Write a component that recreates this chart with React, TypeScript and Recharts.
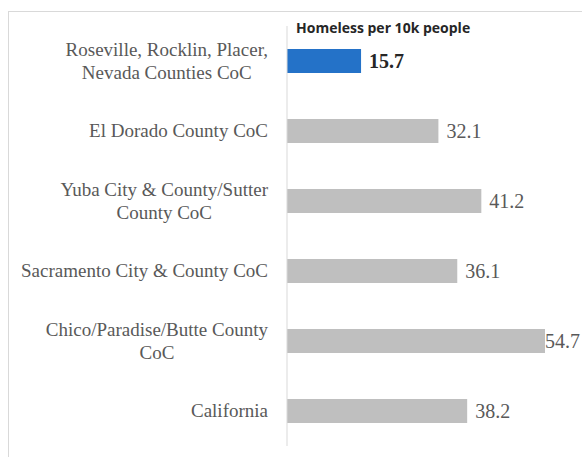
import { Bar, BarChart, Cell, LabelList, XAxis, YAxis } from "recharts";

// Horizontal bars, one per region. Placer/Nevada highlighted in blue.
const categories = [
  "Roseville, Rocklin, Placer, Nevada Counties CoC",
  "El Dorado County CoC",
  "Yuba City & County/Sutter County CoC",
  "Sacramento City & County CoC",
  "Chico/Paradise/Butte County CoC",
  "California",
];
const values = [15.7, 32.1, 41.2, 36.1, 54.7, 38.2];
const tickLines = [
  ["Roseville, Rocklin, Placer,", "Nevada Counties CoC"],
  ["El Dorado County CoC"],
  ["Yuba City & County/Sutter", "County CoC"],
  ["Sacramento City & County CoC"],
  ["Chico/Paradise/Butte County", "CoC"],
  ["California"],
];
const highlight = "Roseville, Rocklin, Placer, Nevada Counties CoC";

const data = categories.map((c, i) => ({ name: c, value: values[i] }));

const LABEL_FONT = '19px "Liberation Serif"';
const LINE_H = 23;

let ctx: CanvasRenderingContext2D | null = null;
function textWidth(s: string) {
  if (!ctx) ctx = document.createElement("canvas").getContext("2d");
  if (!ctx) return s.length * 8;
  ctx.font = LABEL_FONT;
  return ctx.measureText(s).width;
}

function CategoryTick(props: any) {
  const { x, y, payload } = props;
  const idx = categories.indexOf(payload.value);
  const lines = tickLines[idx] ?? [payload.value];
  const w = Math.max(...lines.map(textWidth));
  const cx = x - w / 2;
  const first = y + 6 - ((lines.length - 1) * LINE_H) / 2;
  return (
    <text textAnchor="middle" fill="#595959" style={{ font: LABEL_FONT }}>
      {lines.map((l, i) => (
        <tspan key={i} x={cx} y={first + i * LINE_H}>
          {l}
        </tspan>
      ))}
    </text>
  );
}

function ValueLabel(props: any) {
  const { x, y, width, height, value, index } = props;
  const hi = categories[index] === highlight;
  const lx = Math.min(x + width + 8, 545);
  return (
    <text
      x={lx}
      y={y + height / 2 + 7}
      fill={hi ? "#262626" : "#595959"}
      style={{ font: `${hi ? "bold " : ""}20px "Liberation Serif"` }}
    >
      {value.toFixed(1)}
    </text>
  );
}

export default function App() {
  return (
    <div
      style={{
        position: "absolute",
        left: 0,
        top: 0,
        width: 582,
        height: 457,
        background: "#fff",
        overflow: "hidden",
      }}
    >
      <div
        style={{
          position: "absolute",
          left: 8,
          top: 11,
          width: 600,
          height: 460,
          borderLeft: "1px solid #d9d9d9",
          borderTop: "1px solid #d9d9d9",
        }}
      />
      <div
        style={{
          position: "absolute",
          left: 296,
          top: 18,
          font: 'bold 14px "Open Sans", sans-serif',
          color: "#262626",
          whiteSpace: "nowrap",
        }}
      >
        Homeless per 10k people
      </div>
      <div style={{ position: "absolute", left: 0, top: 0 }}>
        <BarChart
          width={582}
          height={457}
          data={data}
          layout="vertical"
          margin={{ top: 26, right: 12, bottom: 11, left: 0 }}
          barCategoryGap={23}
        >
          <XAxis type="number" domain={[0, 60]} hide />
          <YAxis
            type="category"
            dataKey="name"
            width={287}
            axisLine={{ stroke: "#d9d9d9" }}
            tickLine={false}
            tickSize={0}
            tickMargin={19}
            interval={0}
            tick={<CategoryTick />}
          />
          <Bar dataKey="value" barSize={24} isAnimationActive={false}>
            {data.map((d) => (
              <Cell
                key={d.name}
                fill={d.name === highlight ? "#2472c8" : "#bfbfbf"}
              />
            ))}
            <LabelList dataKey="value" content={<ValueLabel />} />
          </Bar>
        </BarChart>
      </div>
    </div>
  );
}
